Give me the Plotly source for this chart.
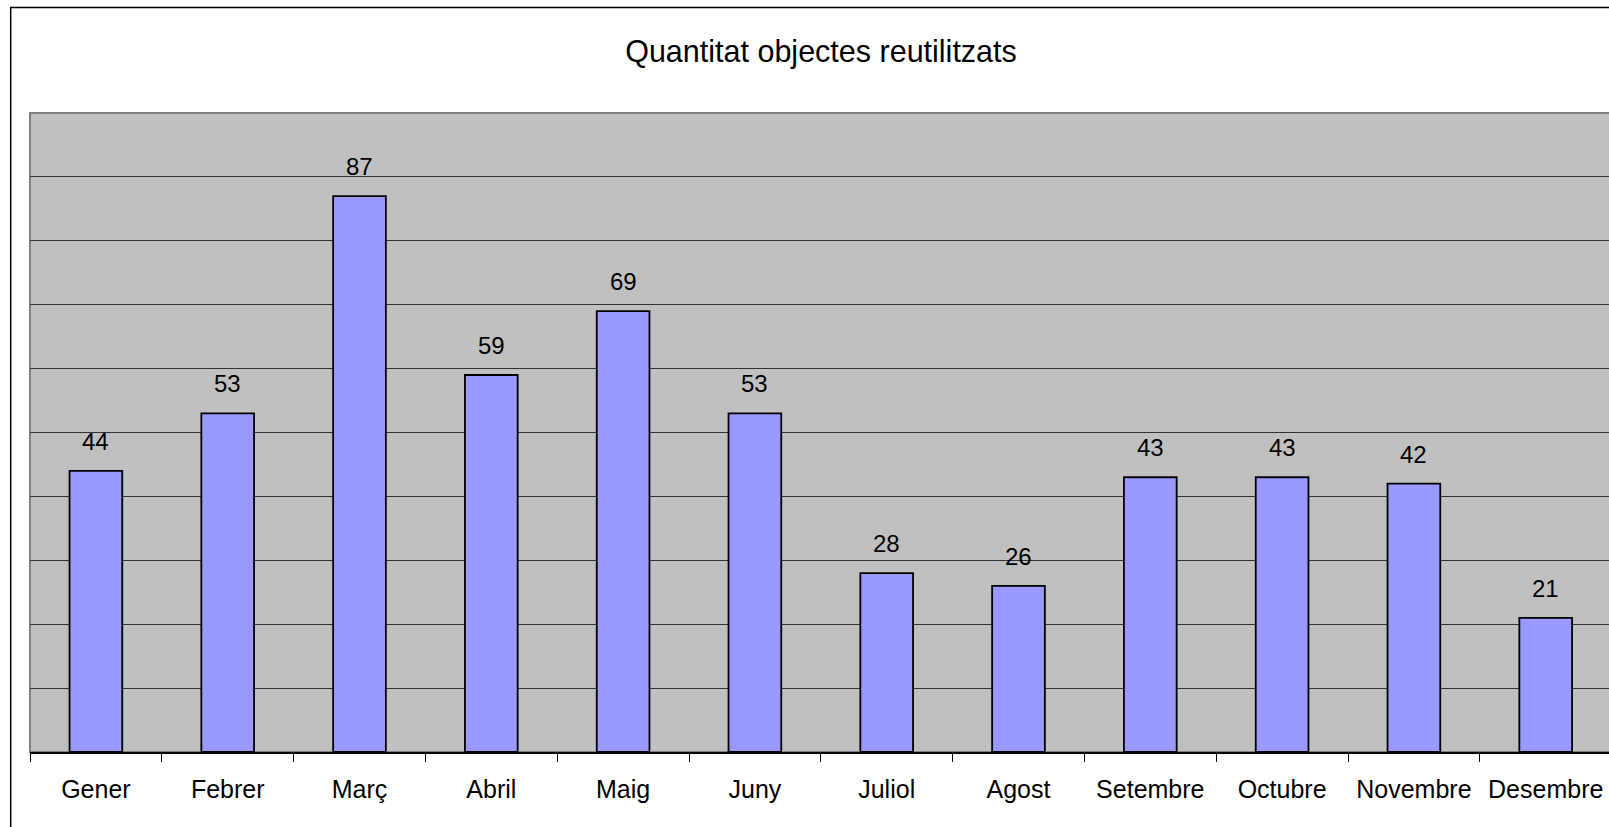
import plotly.graph_objects as go

months = ["Gener", "Febrer", "Març", "Abril", "Maig", "Juny", "Juliol",
          "Agost", "Setembre", "Octubre", "Novembre", "Desembre"]
values = [44, 53, 87, 59, 69, 53, 28, 26, 43, 43, 42, 21]
title_text = "Quantitat objectes reutilitzats"

FONT = "Arial, Liberation Sans, sans-serif"
W, H = 1609, 827
L, T, B, R = 30, 113, 75, 0
CAT_W = 131.8
plot_w = W - L - R
plot_h = H - T - B

fig = go.Figure()
fig.add_trace(go.Bar(
    x=months, y=values,
    width=0.4,
    marker=dict(color="#9999FF", line=dict(color="#000000", width=1.8)),
    showlegend=False,
    hoverinfo="x+y",
))

for m, v in zip(months, values):
    fig.add_annotation(x=m, y=v, text=str(v), showarrow=False,
                       xref="x", yref="y", yanchor="bottom", yshift=14,
                       font=dict(family=FONT, size=24, color="#000000"))

fig.update_layout(
    width=W, height=H,
    margin=dict(l=L, r=R, t=T, b=B, pad=0),
    paper_bgcolor="#FFFFFF",
    plot_bgcolor="#C0C0C0",
    font=dict(family=FONT, size=24, color="#000000"),
    hovermode=False,
    title=dict(text=title_text, x=821 / W, xref="container", xanchor="center",
               y=1 - 51 / H, yref="container", yanchor="middle",
               font=dict(family=FONT, size=30.5, color="#000000")),
    xaxis=dict(
        type="category",
        range=[-0.5, -0.5 + plot_w / CAT_W],
        showgrid=False,
        showline=True, linecolor="#000000", linewidth=1.5,
        ticks="outside", tickson="boundaries", ticklen=8, tickwidth=1.2,
        tickcolor="#000000",
        tickfont=dict(family=FONT, size=25, color="#000000"),
        ticklabelstandoff=14,
        fixedrange=True,
    ),
    yaxis=dict(
        range=[0, 100], dtick=10,
        showgrid=True, gridcolor="#333333", gridwidth=1.2,
        showticklabels=False, zeroline=False, showline=False,
        ticks="",
        fixedrange=True,
    ),
    shapes=[
        # plot area border (grey)
        dict(type="rect", xref="paper", yref="paper", x0=0, x1=1.02, y0=0, y1=1,
             line=dict(color="#808080", width=2), layer="below"),
        # outer chart border
        dict(type="rect", xref="paper", yref="paper",
             x0=(10.7 - L) / plot_w, x1=1.05,
             y0=-0.2, y1=1 + (T - 7.5) / plot_h,
             line=dict(color="#000000", width=1.5), layer="above"),
    ],
)

fig.write_html(
    "out.html",
    config={"displayModeBar": False, "staticPlot": False},
    post_script=(
        "document.body.style.margin='0';"
        "document.body.style.overflow='hidden';"
        "document.documentElement.style.overflow='hidden';"
    ),
)
